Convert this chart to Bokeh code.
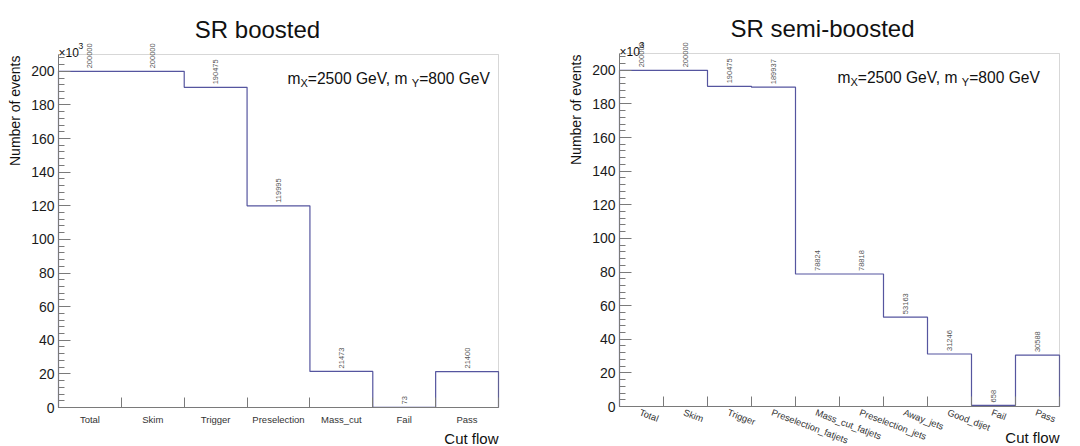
import math
import numpy as np
from bokeh.plotting import figure
from bokeh.models import (Range1d, FixedTicker, SingleIntervalTicker, Label, LabelSet,
                          ColumnDataSource, LinearAxis, BoxAnnotation)
from bokeh.core.properties import value
from bokeh.layouts import row
from bokeh.embed import file_html
from bokeh.resources import INLINE

# ---------------- data ----------------
boosted_cuts = ["Total", "Skim", "Trigger", "Preselection", "Mass_cut", "Fail", "Pass"]
boosted_counts = [200000, 200000, 190475, 119995, 21473, 73, 21400]

semi_cuts = ["Total", "Skim", "Trigger", "Preselection_fatjets", "Mass_cut_fatjets",
             "Preselection_jets", "Away_jets", "Good_dijet", "Fail", "Pass"]
semi_counts = [200000, 200000, 190475, 189937, 78824, 78818, 53163, 31246, 658, 30588]

titles = ["SR boosted", "SR semi-boosted"]
y_max = 210          # in units of 10^3
y_title = "Number of events"
x_title = "Cut flow"

FONT = "Liberation Sans"
LINE = "#55559f"
FRAME = "#7a7a7a"
H = 446


def make(cuts, counts, title, fig_w, fx0, fx1, ftop, fbot, title_x, mass_x, rotate):
    n = len(cuts)
    fw = fx1 - fx0
    fh = H - ftop - fbot
    sx = n / fw
    sy = y_max / fh
    p = figure(width=fig_w, height=H,
               x_range=Range1d(-fx0 * sx, n + (fig_w - fx1) * sx),
               y_range=Range1d(-fbot * sy, y_max + ftop * sy),
               output_backend="svg", toolbar_location=None,
               x_axis_type=None, y_axis_type=None,
               min_border_left=0, min_border_right=0, min_border_top=0, min_border_bottom=0)
    p.grid.visible = False
    p.outline_line_color = None
    p.background_fill_color = "white"
    p.border_fill_color = "white"

    def txt(text, xr, yr, size, angle=0.0, align="left", baseline="alphabetic", color="#111111"):
        p.add_layout(Label(x=fx0 + xr, y=fbot + yr, x_units="screen", y_units="screen",
                           text=text, text_font=FONT, text_font_size=f"{size}px", angle=angle,
                           text_align=align, text_baseline=baseline, text_color=color))

    edges = np.arange(n + 1)
    centers = edges[:-1] + 0.5
    vals = np.array(counts, dtype=float) / 1000.0

    # frame box
    p.add_layout(BoxAnnotation(left=0, right=n, bottom=0, top=y_max, fill_alpha=0,
                               line_color=FRAME, line_width=1))

    # x axis: ticks at bin edges
    xa = LinearAxis(fixed_location=0, bounds=(0, n),
                    ticker=FixedTicker(ticks=[], minor_ticks=[float(e) for e in edges]))
    xa.axis_line_color = FRAME
    xa.minor_tick_in = 10
    xa.minor_tick_out = 0
    xa.minor_tick_line_color = FRAME
    xa.major_tick_line_color = None
    p.add_layout(xa, "below")

    ya = LinearAxis(fixed_location=0, bounds=(0, y_max),
                    ticker=SingleIntervalTicker(interval=20, num_minor_ticks=5))
    ya.axis_line_color = FRAME
    ya.major_tick_in = 12
    ya.major_tick_out = 0
    ya.minor_tick_in = 6
    ya.minor_tick_out = 0
    ya.major_tick_line_color = FRAME
    ya.minor_tick_line_color = FRAME
    ya.major_label_text_font = FONT
    ya.major_label_text_font_size = "14px"
    ya.major_label_text_color = "#1a1a1a"
    ya.major_label_standoff = 4
    p.add_layout(ya, "left")

    # histogram outline
    xs = np.repeat(edges, 2).astype(float)
    ys = np.concatenate([[0.0], np.repeat(vals, 2), [0.0]])
    p.line(xs, ys, line_color=LINE, line_width=1.2)

    # bin contents
    src = ColumnDataSource(dict(x=centers, y=vals, t=[str(c) for c in counts],
                                cy=[fbot - (1.0 if rotate else 6.0)] * n, cut=cuts))
    p.add_layout(LabelSet(x="x", y="y", text="t", source=src, y_offset=3, angle=math.pi / 2,
                          text_align="left", text_baseline="middle", text_font=value(FONT),
                          text_font_size=value("7.5px"), text_color="#555555"))
    # category labels
    if rotate:
        p.add_layout(LabelSet(x="x", y="cy", y_units="screen", text="cut", source=src,
                              angle=-0.36, text_align="left", text_baseline="top",
                              text_font=value(FONT), text_font_size=value("9.3px"),
                              text_color="#333333"))
    else:
        p.add_layout(LabelSet(x="x", y="cy", y_units="screen", text="cut", source=src,
                              text_align="center", text_baseline="top",
                              text_font=value(FONT), text_font_size=value("9.5px"),
                              text_color="#333333"))

    # titles and annotations
    txt(title, title_x, fh + 25, 24, align="center")
    txt(y_title, -44, fh - 1, 14, angle=math.pi / 2, align="right", baseline="middle")
    txt(x_title, fw, -31, 15, align="right")
    txt("\u00d710", 0, fh + 2, 12)
    txt("3", 20, fh + 9, 8.5)

    # m_X = 2500 GeV, m_Y = 800 GeV
    f = 15.6
    fs = 11.0
    x0 = mass_x
    yb = fh - 24
    txt("m", x0, yb, f)
    x0 += 0.833 * f
    txt("X", x0, yb - 4, fs)
    x0 += 0.667 * fs
    txt("=2500 GeV, m", x0, yb, f)
    x0 += 6.476 * f + 3
    txt("Y", x0, yb - 4, fs)
    x0 += 0.667 * fs
    txt("=800 GeV", x0, yb, f)
    return p


p1 = make(boosted_cuts, boosted_counts, titles[0], 540, 58, 498, 54, 39, 199, 229, False)
p2 = make(semi_cuts, semi_counts, titles[1], 540, 79, 519, 53, 40, 203, 218, True)

layout = row(p1, p2)
open("out.html", "w").write(file_html(layout, INLINE))
